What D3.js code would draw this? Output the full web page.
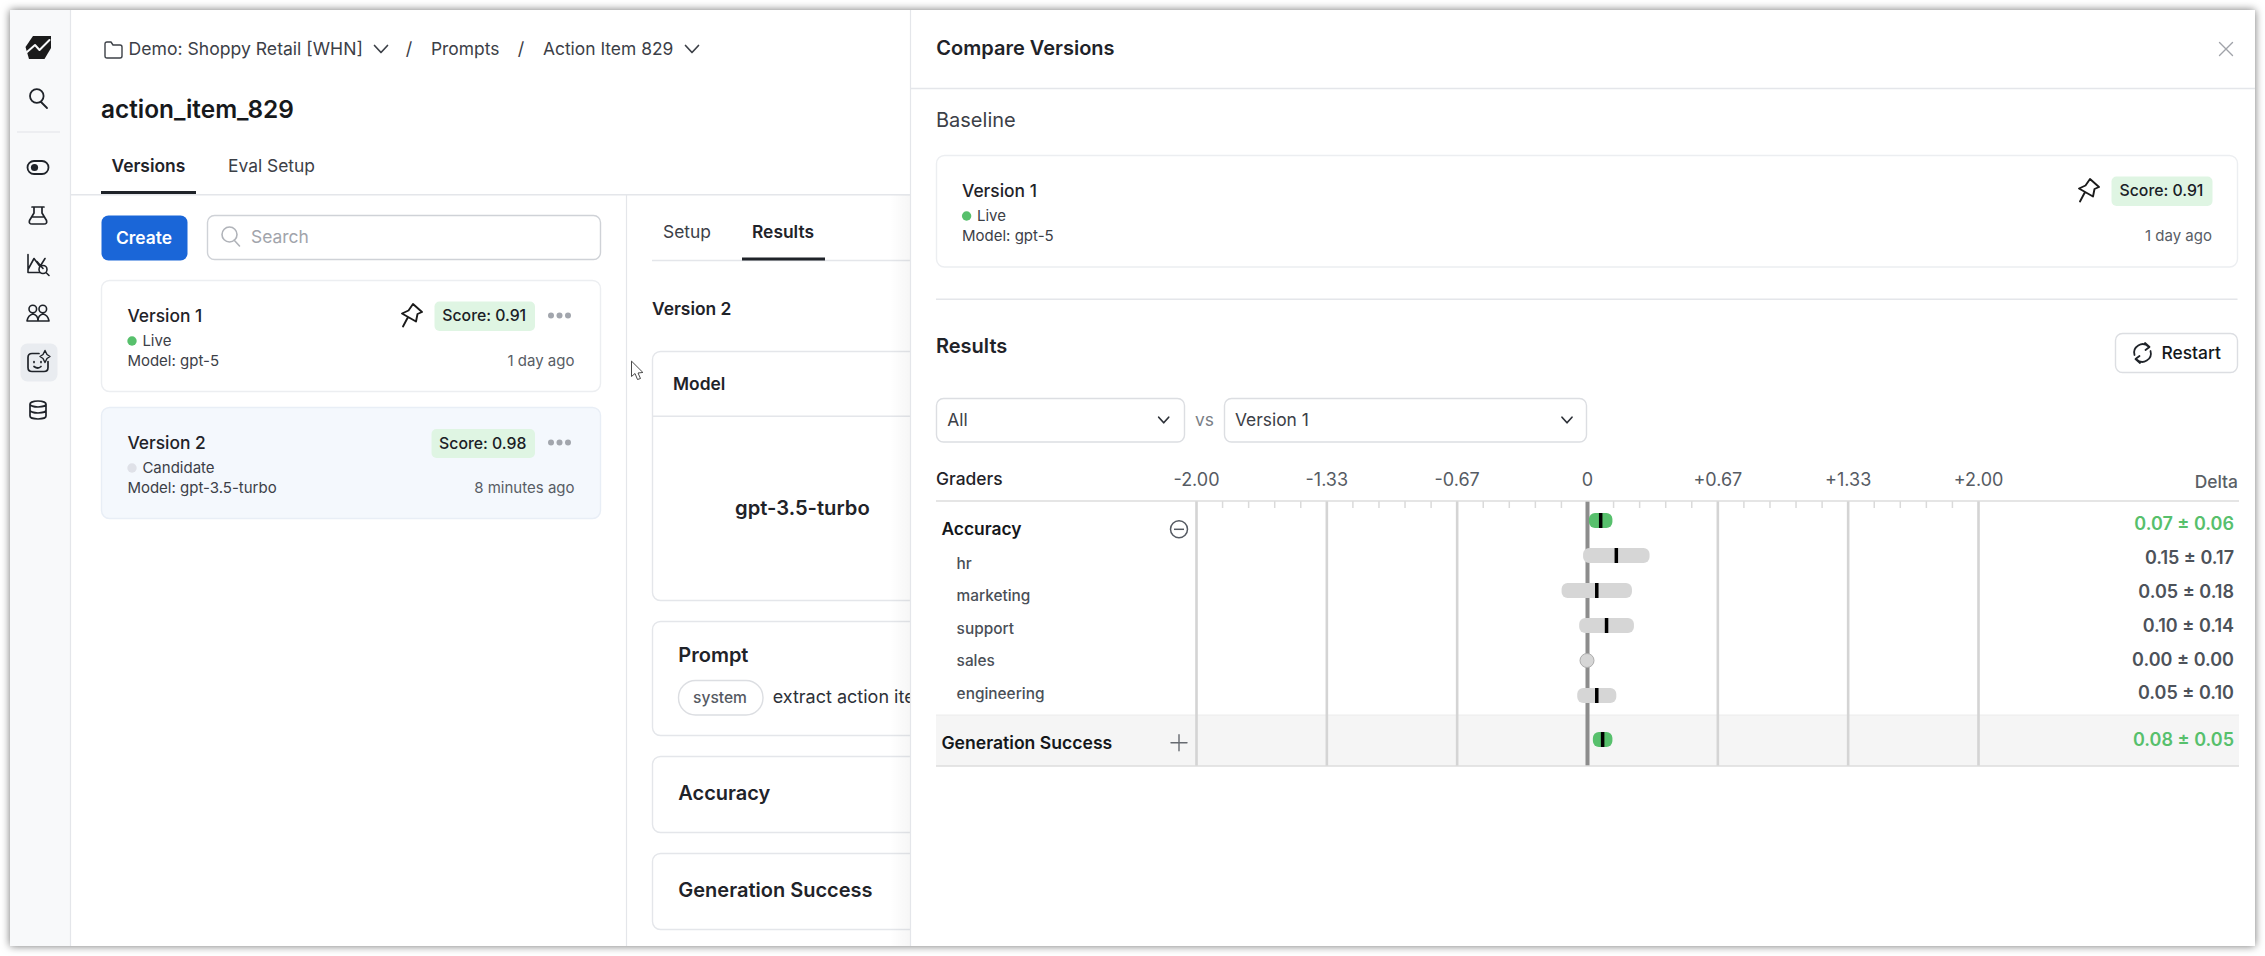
<!DOCTYPE html>
<html>
<head>
<meta charset="utf-8">
<script src="https://cdn.jsdelivr.net/npm/d3@7"></script>
<style>
    html, body { margin: 0; padding: 0; background: #fff; }
    svg { display: block; }
    text { font-family: Inter, "Noto Sans", sans-serif; }
</style>
</head>
<body>
<div id="chart"></div>
<script>
(function () {
    'use strict';

    // values
    var graders = ['Accuracy', 'hr', 'marketing', 'support', 'sales', 'engineering'];
    var deltas = [0.07, 0.15, 0.05, 0.10, 0.00, 0.05];
    var errors = [0.06, 0.17, 0.18, 0.14, 0.00, 0.10];
    var totalName = 'Generation Success';
    var totalDelta = 0.08;
    var totalError = 0.05;
    var tickValues = [-2, -4 / 3, -2 / 3, 0, 2 / 3, 4 / 3, 2];
    var tickLabels = ['-2.00', '-1.33', '-0.67', '0', '+0.67', '+1.33', '+2.00'];
    var minorPerUnit = 7.5;

    var INK = '#1f2329', MUTED = '#4d525a', LINE = '#e4e6ea', GREEN = '#57c06c', BADGE = '#dff5e3';

    var svg = d3.select('#chart').append('svg')
        .attr('width', 2265)
        .attr('height', 956);

    var defs = svg.append('defs');
    var shadow = defs.append('filter').attr('id', 'win').attr('x', '-3%').attr('y', '-3%').attr('width', '106%').attr('height', '106%');
    shadow.append('feDropShadow').attr('dx', 0).attr('dy', 0).attr('stdDeviation', 4)
        .attr('flood-color', '#000').attr('flood-opacity', 0.55);
    var fade = defs.append('linearGradient').attr('id', 'fade');
    fade.append('stop').attr('offset', 0).attr('stop-color', '#000').attr('stop-opacity', 0);
    fade.append('stop').attr('offset', 1).attr('stop-color', '#000').attr('stop-opacity', 0.035);
    defs.append('clipPath').attr('id', 'left-clip').append('rect')
        .attr('x', 10).attr('y', 10).attr('width', 900).attr('height', 936);

    function label(parent, str, x, y, size, opts) {
        opts = opts || {};
        return parent.append('text')
            .attr('x', x)
            .attr('y', y)
            .attr('dy', '.36em')
            .attr('font-size', size)
            .attr('font-weight', opts.weight || 400)
            .attr('fill', opts.fill || INK)
            .attr('text-anchor', opts.anchor || 'start')
            .text(str);
    }

    function box(parent, x0, y0, x1, y1, r, fill, stroke) {
        return parent.append('rect')
            .attr('x', x0 + 0.5).attr('y', y0 + 0.5)
            .attr('width', x1 - x0).attr('height', y1 - y0)
            .attr('rx', r)
            .attr('fill', fill || 'none')
            .attr('stroke', stroke || 'none')
            .attr('stroke-width', 1.4);
    }

    function hline(parent, x0, x1, y, color, width) {
        return parent.append('line')
            .attr('x1', x0).attr('x2', x1).attr('y1', y).attr('y2', y)
            .attr('stroke', color || LINE).attr('stroke-width', width || 1.4);
    }

    function icon(parent, x, y, d, color, width, fill) {
        return parent.append('path')
            .attr('transform', 'translate(' + x + ',' + y + ')')
            .attr('d', d)
            .attr('fill', fill || 'none')
            .attr('stroke', color || INK)
            .attr('stroke-width', width || 1.8)
            .attr('stroke-linecap', 'round')
            .attr('stroke-linejoin', 'round');
    }

    function chevron(parent, x, y, color) {
        icon(parent, x, y, 'M-6.5 -3.5 L0 3.5 L6.5 -3.5', color || '#3c4047', 1.7);
    }

    function smallChevron(parent, x, y) {
        icon(parent, x, y, 'M-5 -2.8 L0 2.8 L5 -2.8', '#2d3138', 1.7);
    }

    function pin(parent, x, y) {
        icon(parent, x, y, 'M12 0 L21 8 L16.5 10 L15 17.5 L1 9.5 L7.5 6.5 Z M6.5 14 L2 22.5', '#1a1a1a', 1.9);
    }

    function scoreBadge(parent, x0, x1, y0, y1, str) {
        box(parent, x0, y0, x1, y1, 5, BADGE);
        label(parent, str, (x0 + x1) / 2, (y0 + y1) / 2, 15.8, {anchor: 'middle', weight: 500, fill: '#1a2026'});
    }

    function moreDots(parent, y) {
        [551, 559.5, 568].forEach(function (x) {
            parent.append('circle').attr('cx', x).attr('cy', y).attr('r', 3).attr('fill', '#a2a6ad');
        });
    }

    function versionCard(parent, o) {
        label(parent, o.name, o.x, o.y, 17.4, {weight: 500});
        parent.append('circle').attr('cx', o.x + 4.6).attr('cy', o.y + 25).attr('r', 4.7).attr('fill', o.dot);
        label(parent, o.status, o.x + 15, o.y + 25, 15, {fill: '#3c4047'});
        label(parent, o.model, o.x, o.y + 45, 15, {fill: '#3c4047'});
        label(parent, o.age, o.right, o.y + 45, 15, {anchor: 'end', fill: '#585d65'});
    }

    // window frame
    svg.append('rect').attr('x', 10).attr('y', 10).attr('width', 2245).attr('height', 936)
        .attr('fill', '#fff').attr('filter', 'url(#win)');

    // left side, clipped where the compare panel covers it
    var page = svg.append('g').attr('clip-path', 'url(#left-clip)');

    // sidebar
    page.append('rect').attr('x', 10).attr('y', 10).attr('width', 60).attr('height', 936).attr('fill', '#f8f9fa');
    page.append('line').attr('x1', 70.5).attr('x2', 70.5).attr('y1', 10).attr('y2', 946).attr('stroke', LINE).attr('stroke-width', 1.2);
    hline(page, 17, 60, 132, '#e1e3e7', 1.2);
    box(page, 20, 343, 57, 381, 7, '#e9ecf0');

    page.append('path').attr('fill', '#1b1b1b')
        .attr('d', 'M25.5 47 L33 36 L51 36 L51 48 L44.5 59 L29 59 Z');
    icon(page, 0, 0, 'M27 52 L35 45 L39.5 50 L49.5 40', '#f8f9fa', 2);
    icon(page, 38, 97, 'M-8 -1 a6.8 6.8 0 1 0 13.6 0 a6.8 6.8 0 1 0 -13.6 0 M3 5 L9 11', '#1f2329', 1.8);
    icon(page, 38, 167.5, 'M-4 -6.5 H4 a6.5 6.5 0 0 1 0 13 H-4 a6.5 6.5 0 0 1 0 -13 Z', '#1f2329', 1.8);
    page.append('circle').attr('cx', 34.5).attr('cy', 167.5).attr('r', 3.6).attr('fill', '#1f2329');
    icon(page, 38, 215.5, 'M-6 -8.5 H6 M-4 -8.5 V-2.5 L-8.5 5 Q-9.5 8.5 -6 8.5 H6 Q9.5 8.5 8.5 5 L4 -2.5 V-8.5 M-6 1.5 H6', '#1f2329', 1.7);
    icon(page, 38, 264.5, 'M-10 -10 V8 H2 M-10 5 L-4 -6 L2 2 L7 -6 M-1 -3 L5 4', '#1f2329', 1.6);
    icon(page, 38, 264.5, 'M1 5 a4 4 0 1 0 8 0 a4 4 0 1 0 -8 0 M8 8 L11 11', '#1f2329', 1.6);
    icon(page, 38, 313, 'M-9 -4 a3.8 3.8 0 1 0 7.6 0 a3.8 3.8 0 1 0 -7.6 0 M1 -4 a3.8 3.8 0 1 0 7.6 0 a3.8 3.8 0 1 0 -7.6 0 M-11 8 Q-10 2 -5 1 Q0 2 0 8 Z M0 8 Q0 2 5 1 Q10 2 11 8 Z', '#1f2329', 1.6);
    icon(page, 38, 362.5, 'M1 -9 H-6 Q-10 -9 -10 -5 V5 Q-10 9 -6 9 H6 Q10 9 10 5 V-1 M-4 -1 V0 M3 -1 V0 M-4 4 Q0 7 3 4', '#1f2329', 1.7);
    icon(page, 38, 362.5, 'M7 -12 L9 -8 L12 -6 L9 -4 L7 0 L5 -4 L2 -6 L5 -8 Z', '#1f2329', 1.4);
    icon(page, 38, 410, 'M-8 -6 a8 3 0 1 0 16 0 a8 3 0 1 0 -16 0 V6 a8 3 0 0 0 16 0 V-6 M-8 0 a8 3 0 0 0 16 0', '#1f2329', 1.7);

    // breadcrumb and title
    icon(page, 104, 41, 'M1 3 Q1 1 3 1 H7 L9 4 H16 Q18 4 18 6 V15 Q18 17 16 17 H3 Q1 17 1 15 Z', '#3c4047', 1.4);
    label(page, 'Demo: Shoppy Retail [WHN]', 128.6, 49, 17.6, {fill: '#3c4047'});
    chevron(page, 381, 49);
    label(page, '/', 409, 49, 18, {anchor: 'middle', fill: '#3c4047'});
    label(page, 'Prompts', 431, 49, 17.4, {fill: '#3c4047'});
    label(page, '/', 521, 49, 18, {anchor: 'middle', fill: '#3c4047'});
    label(page, 'Action Item 829', 543, 49, 17.4, {fill: '#3c4047'});
    chevron(page, 692, 49);
    label(page, 'action_item_829', 101, 109.5, 24.4, {weight: 600, fill: '#17191c'});

    label(page, 'Versions', 111.5, 166, 17.4, {weight: 600});
    label(page, 'Eval Setup', 228, 166, 17.4, {fill: '#3c4047'});
    hline(page, 70.5, 910, 194.8);
    page.append('rect').attr('x', 101).attr('y', 191).attr('width', 95).attr('height', 3).attr('fill', '#1f2329');
    page.append('line').attr('x1', 626.5).attr('x2', 626.5).attr('y1', 195).attr('y2', 946).attr('stroke', LINE).attr('stroke-width', 1.2);

    // version list
    box(page, 101, 215, 187, 260, 7, '#1a66d8');
    label(page, 'Create', 144, 238, 17.4, {anchor: 'middle', weight: 600, fill: '#fff'});
    box(page, 207, 215, 600, 259, 7, '#fff', '#cfd2d7');
    icon(page, 222, 227, 'M0 7.5 a7.5 7.5 0 1 0 15 0 a7.5 7.5 0 1 0 -15 0 M12 13 L17.5 19', '#b0b3b9', 1.6);
    label(page, 'Search', 251, 237, 17.4, {fill: '#a1a4ab'});

    box(page, 101, 280, 600, 391, 8, '#fff', '#eceef1');
    versionCard(page, {name: 'Version 1', status: 'Live', model: 'Model: gpt-5', age: '1 day ago', dot: GREEN, x: 127.4, y: 316, right: 574.5});
    pin(page, 401, 304);
    scoreBadge(page, 434, 534.5, 301, 330.5, 'Score: 0.91');
    moreDots(page, 315.5);

    box(page, 101, 407, 600, 518, 8, '#f4f8fd', '#e8eef6');
    versionCard(page, {name: 'Version 2', status: 'Candidate', model: 'Model: gpt-3.5-turbo', age: '8 minutes ago', dot: '#dfe1e8', x: 127.4, y: 443, right: 574.5});
    scoreBadge(page, 431, 534.5, 428.5, 457.5, 'Score: 0.98');
    moreDots(page, 442.5);

    // results column
    label(page, 'Setup', 663, 232, 17.4, {fill: '#3c4047'});
    label(page, 'Results', 752, 232, 17.4, {weight: 600});
    hline(page, 652, 910, 260.5);
    page.append('rect').attr('x', 742).attr('y', 257.5).attr('width', 83).attr('height', 3).attr('fill', '#1f2329');
    label(page, 'Version 2', 652, 309, 17.4, {weight: 600});

    box(page, 652, 351, 940, 600, 8, '#fff', LINE);
    hline(page, 652, 910, 416.3);
    label(page, 'Model', 673, 384, 17.4, {weight: 600});
    label(page, 'gpt-3.5-turbo', 735, 508, 20.2, {weight: 600});

    box(page, 652, 621, 940, 735, 8, '#fff', LINE);
    label(page, 'Prompt', 678.3, 655, 20, {weight: 600});
    box(page, 678, 680, 762.5, 714.5, 17, '#fff', '#dcdee2');
    label(page, 'system', 720, 697, 15.6, {anchor: 'middle', weight: 500, fill: '#555a62'});
    label(page, 'extract action items', 772.7, 697, 18, {fill: '#2d3138'});

    box(page, 652, 756, 940, 832, 8, '#fff', LINE);
    label(page, 'Accuracy', 678.3, 793, 20, {weight: 600});
    box(page, 652, 853, 940, 929, 8, '#fff', LINE);
    label(page, 'Generation Success', 678.3, 890, 20, {weight: 600});

    page.append('rect').attr('x', 890).attr('y', 195).attr('width', 20).attr('height', 751).attr('fill', 'url(#fade)');
    icon(page, 631.5, 361.5, 'M0 0 V15 L3.5 12 L6 18 L9 17 L6.5 11.5 L11 11 Z', '#4a4a4a', 1, '#fff');

    // compare panel
    var panel = svg.append('g');
    panel.append('rect').attr('x', 910).attr('y', 10).attr('width', 1345).attr('height', 936).attr('fill', '#fff');
    panel.append('line').attr('x1', 910.5).attr('x2', 910.5).attr('y1', 10).attr('y2', 946).attr('stroke', LINE).attr('stroke-width', 1.2);

    label(panel, 'Compare Versions', 936.3, 48, 20, {weight: 600});
    icon(panel, 2226, 49, 'M-6.5 -6.5 L6.5 6.5 M6.5 -6.5 L-6.5 6.5', '#a0a3a9', 1.4);
    hline(panel, 910, 2255, 88.5);

    label(panel, 'Baseline', 936, 120, 20, {fill: '#3c4047'});
    box(panel, 936, 155, 2237, 266.5, 8, '#fff', '#eceef1');
    versionCard(panel, {name: 'Version 1', status: 'Live', model: 'Model: gpt-5', age: '1 day ago', dot: GREEN, x: 962, y: 191, right: 2212});
    pin(panel, 2078, 179);
    scoreBadge(panel, 2111, 2212, 176, 205.5, 'Score: 0.91');
    hline(panel, 936, 2237.5, 299.3);

    label(panel, 'Results', 936, 346, 20, {weight: 600});
    box(panel, 2115, 333, 2237, 372, 7, '#fff', '#dcdee2');
    icon(panel, 2142.5, 353, 'M-8 2 A8.5 8.5 0 0 1 6 -6.5 M8 -2 A8.5 8.5 0 0 1 -6 6.5 M2.5 -10 L7 -6 L3 -3 M-2.5 10 L-7 6 L-3 3', '#1f2329', 1.8);
    label(panel, 'Restart', 2161.5, 353, 17.4, {weight: 500, fill: '#14171a'});

    box(panel, 936, 398, 1184, 441.5, 7, '#fff', '#dcdee2');
    label(panel, 'All', 947.3, 420, 17.4, {fill: '#3c4047'});
    smallChevron(panel, 1163.7, 420);
    label(panel, 'vs', 1204.5, 420, 17.4, {anchor: 'middle', fill: '#7b7f86'});
    box(panel, 1224, 398, 1586, 441.5, 7, '#fff', '#dcdee2');
    label(panel, 'Version 1', 1235, 420, 17.4, {fill: '#3c4047'});
    smallChevron(panel, 1567, 420);

    // the chart: delta scale and rows
    var TOP = 501, BOTTOM = 766, BAND_TOP = 715;
    var RIGHT = 2239, LEFT = 936, BAR_H = 15;

    var x = d3.scaleLinear().domain([-2, 2]).range([1196, 1978]);
    var yBar = d3.scalePoint().domain(graders).range([520.5, 695.5]);
    var yDelta = d3.scalePoint().domain(graders).range([523.7, 693]);
    var yName = d3.scalePoint().domain(graders.slice(1)).range([563, 693]);

    panel.append('rect').attr('x', LEFT).attr('y', BAND_TOP).attr('width', RIGHT - LEFT).attr('height', BOTTOM - BAND_TOP).attr('fill', '#f5f5f5');
    hline(panel, LEFT, RIGHT, BAND_TOP, '#ececec', 1);

    label(panel, 'Graders', 936, 479, 17.4, {weight: 500});
    label(panel, 'Delta', RIGHT - 1, 482, 17.4, {anchor: 'end', weight: 500, fill: '#5a5f66'});

    var minorValues = d3.range(-15, 16)
        .filter(function (i) { return i % 5 !== 0; })
        .map(function (i) { return i / minorPerUnit; });

    var minorAxis = d3.axisBottom(x).tickValues(minorValues).tickSize(7).tickFormat('');
    panel.append('g').attr('transform', 'translate(0,' + TOP + ')').call(minorAxis)
        .call(function (g) { g.select('.domain').remove(); })
        .selectAll('line').attr('stroke', '#dadada').attr('stroke-width', 1.5);

    var gridAxis = d3.axisBottom(x).tickValues(tickValues).tickSize(BOTTOM - TOP).tickFormat('');
    panel.append('g').attr('transform', 'translate(0,' + TOP + ')').call(gridAxis)
        .call(function (g) { g.select('.domain').remove(); })
        .selectAll('line')
        .attr('stroke', function (d) { return d === 0 ? '#8c8c8c' : '#d4d4d4'; })
        .attr('stroke-width', function (d) { return d === 0 ? 4 : 2.6; });

    var labelAxis = d3.axisTop(x).tickValues(tickValues).tickSize(0).tickPadding(0)
        .tickFormat(function (d, i) { return tickLabels[i]; });
    var labelGroup = panel.append('g').attr('transform', 'translate(0,485.5)').call(labelAxis);
    labelGroup.select('.domain').remove();
    labelGroup.selectAll('text')
        .attr('font-family', 'Inter, "Noto Sans", sans-serif')
        .attr('font-size', 18)
        .attr('fill', '#565b63');

    hline(panel, LEFT, RIGHT, TOP, '#dcdcdc', 1.5);
    hline(panel, LEFT, RIGHT, BOTTOM, '#dcdcdc', 1.5);

    // row labels
    label(panel, graders[0], 941.4, 529, 17.4, {weight: 600, fill: '#14171a'});
    graders.slice(1).forEach(function (name) {
        label(panel, name, 956.6, yName(name), 15.4, {weight: 500, fill: '#4a4f57'});
    });
    label(panel, totalName, 941.4, 742.7, 17.6, {weight: 600, fill: '#14171a'});

    panel.append('circle').attr('cx', 1179).attr('cy', 529.3).attr('r', 8.5)
        .attr('fill', 'none').attr('stroke', '#555a62').attr('stroke-width', 1.5);
    hline(panel, 1174, 1184, 529.3, '#555a62', 1.5);
    icon(panel, 1179, 742.7, 'M-8 0 H8 M0 -8 V8', '#666a70', 1.4);

    // one row per grader, delta with its error range
    function drawRow(name, cy, delta, err, color) {
        var g = panel.append('g').attr('class', 'row').datum({name: name, delta: delta, err: err});
        if (err === 0) {
            g.append('circle')
                .attr('cx', x(delta))
                .attr('cy', cy)
                .attr('r', 7)
                .attr('fill', '#d6d6d6')
                .attr('stroke', '#acacac')
                .attr('stroke-width', 1);
            return;
        }
        g.append('rect')
            .attr('x', x(delta - err))
            .attr('y', cy - BAR_H / 2)
            .attr('width', x(delta + err) - x(delta - err))
            .attr('height', BAR_H)
            .attr('rx', 6)
            .attr('fill', color);
        g.append('rect')
            .attr('x', x(delta) - 1.75)
            .attr('y', cy - BAR_H / 2)
            .attr('width', 3.5)
            .attr('height', BAR_H)
            .attr('fill', '#000');
    }

    function deltaText(delta, err) {
        return delta.toFixed(2) + ' ± ' + err.toFixed(2);
    }

    graders.forEach(function (name, i) {
        var top = i === 0;
        drawRow(name, yBar(name), deltas[i], errors[i], top ? GREEN : '#d6d6d6');
        label(panel, deltaText(deltas[i], errors[i]), 2234, yDelta(name), 18, {
            anchor: 'end',
            weight: 600,
            fill: top ? GREEN : MUTED
        });
    });

    drawRow(totalName, (BAND_TOP + BOTTOM) / 2 - 1, totalDelta, totalError, GREEN);
    label(panel, deltaText(totalDelta, totalError), 2234, 740, 18, {anchor: 'end', weight: 600, fill: GREEN});
})();
</script>
</body>
</html>
